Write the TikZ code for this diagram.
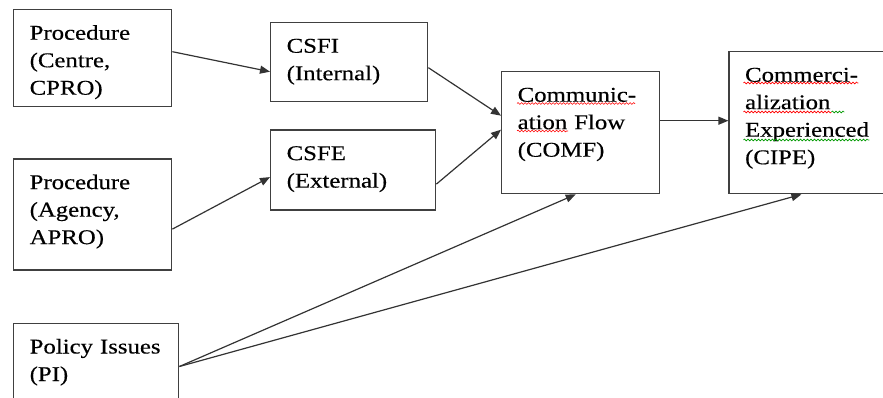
\documentclass[tikz,border=0pt]{standalone}
\usepackage{fontspec}
\usepackage{tikz}
\usetikzlibrary{arrows.meta,decorations.pathmorphing}
\usetikzlibrary{positioning}
\newfontfamily\boxfont[FakeStretch=1.18,FakeBold=0.4]{Liberation Serif}
\tikzset{
    blk/.style 2 args={
           rectangle,
           draw=black!75, line width=1.4pt,
           inner xsep=16pt, inner ysep=0pt,
           align=left,
           text width=#1,
           text height=30pt,
           text depth=#2-30pt,
           font=\boxfont\fontsize{21pt}{27.5pt}\selectfont,
           },
}
\tikzset{
    link/.style={
           draw=black!80, line width=1.2pt,
           -{Triangle[length=10pt,width=8pt]},
           },
}
\tikzset{
    spell/.style={
           decorate,
           decoration={snake, amplitude=0.9pt, segment length=3.5pt},
           line width=0.6pt,
           },
}

\begin{document}
\begin{tikzpicture}[x=1pt,y=-1pt]
\useasboundingbox (0,0) rectangle (883,398);
\clip (0,0) rectangle (883,398);
% left column
\node[blk={126pt}{97pt},anchor=north west](cpro) at (13,9){Procedure\\(Centre,\\CPRO)};
\node[blk={126pt}{111pt},below=51pt of cpro](apro){Procedure\\(Agency,\\APRO)};
\node[blk={133pt}{80pt},below=52pt of apro.south west,anchor=north west](pi){Policy Issues\\(PI)};
% middle
\node[blk={125pt}{79pt},anchor=north west](csfi) at (270,22){CSFI\\(Internal)};
\node[blk={133pt}{80pt},below=27pt of csfi.south west,anchor=north west](csfe){CSFE\\(External)};
% right
\node[blk={126pt}{122pt},anchor=north west](comf) at (501,71){Communic-\\ation Flow\\(COMF)};
\node[blk={138pt}{142pt},right=68pt of comf.south east,anchor=south west](cipe){Commerci-\\alization\\Experienced\\(CIPE)};
% connectors
\draw[link] ([yshift=6.5pt]cpro.east) -- ([yshift=-9.5pt]csfi.west);
\draw[link] ([yshift=-14.5pt]apro.east) -- ([yshift=-7pt]csfe.west);
\draw[link] ([yshift=-5.5pt]csfi.east) -- ([yshift=17pt]comf.west);
\draw[link] ([yshift=-14pt]csfe.east) -- ([yshift=3pt]comf.west);
\draw[link] ([yshift=12pt]comf.east) -- ([yshift=12pt]comf.east -| cipe.west);
\draw[link] ([yshift=-3pt]pi.east) -- ([xshift=-5pt]comf.south);
\draw[link] ([yshift=-3pt]pi.east) -- ([xshift=73pt]cipe.south west);
% spelling marks
\draw[spell,red] ([shift={(16,32.5)}]comf.north west) -- ++(118,0);
\draw[spell,red] ([shift={(16,60)}]comf.north west) -- ++(51,0);
\draw[spell,red] ([shift={(15,32)}]cipe.north west) -- ++(115,0);
\draw[spell,red] ([shift={(15,61)}]cipe.north west) -- ++(88,0);
\draw[spell,green!60!black] ([shift={(103,61)}]cipe.north west) -- ++(13,0);
\draw[spell,green!60!black] ([shift={(15,89)}]cipe.north west) -- ++(126,0);
\end{tikzpicture}
\end{document}
